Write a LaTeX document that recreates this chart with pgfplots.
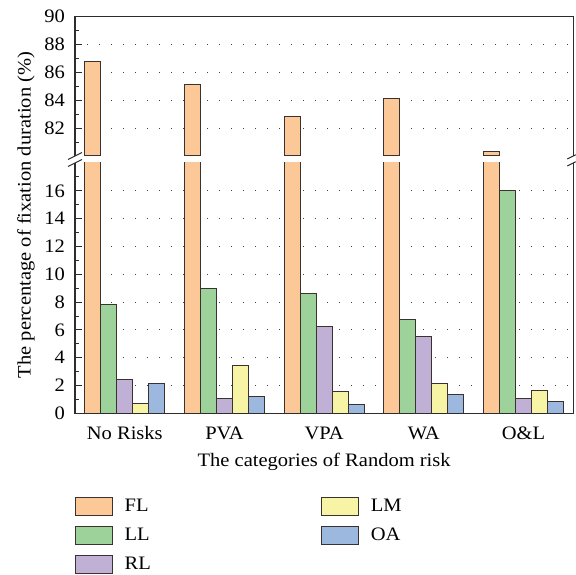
\documentclass[border=0pt]{standalone}
\usepackage{fontspec}
\setmainfont{Liberation Serif}[FakeStretch=1.08]
\usepackage{pgfplots}
\usepackage{pgfplotstable}
\pgfplotsset{compat=1.18}

\definecolor{cFL}{RGB}{252,200,152}
\definecolor{cLL}{RGB}{157,210,155}
\definecolor{cRL}{RGB}{193,176,214}
\definecolor{cLM}{RGB}{247,244,165}
\definecolor{cOA}{RGB}{156,184,222}
\definecolor{edge}{RGB}{58,50,46}
\definecolor{framec}{RGB}{45,45,45}

% share of fixation duration (%) per area of interest and risk category
\pgfplotstableread{
x FL    LL    RL    LM    OA
0 86.80 7.85  2.42  0.69  2.13
1 85.10 9.00  1.08  3.45  1.22
2 82.80 8.60  6.21  1.56  0.62
3 84.10 6.78  5.51  2.11  1.37
4 80.35 16.00 1.08  1.63  0.84
}\datatable

\newcommand{\bigfont}{\fontsize{19}{22}\selectfont}

\tikzset{axisframe/.style={line width=1.1pt, framec}}

\pgfplotsset{
  bars/.style={draw=edge, line width=1pt},
  boxlegend/.style={legend image code/.code={%
    \draw[#1, line width=1pt] (0pt,-8.8pt) rectangle (37pt,8.8pt);}},
  brokenpart/.style={
    scale only axis,
    width=498.3pt,
    xmin=-0.5, xmax=4.5,
    ybar, bar width=15.95pt,
    axis line style={draw=none},
    tick align=inside,
    ytick pos=left,
    major tick length=7pt,
    minor tick length=4pt,
    tick style={line width=0.9pt, framec},
    xtick style={draw=none},
    ymajorgrids,
    major grid style={line width=1pt, black!75, dash pattern=on 0.9pt off 11.1pt},
    tick label style={font=\bigfont},
    label style={font=\bigfont},
    /pgf/number format/assume math mode=true,
    yticklabel style={anchor=east, inner sep=0pt, xshift=-10pt},
  },
}

\begin{document}
\begin{tikzpicture}
\useasboundingbox (-75pt,-161.7pt) rectangle (501pt,413.3pt);

% lower part of the broken y axis: 0 to 18
\begin{axis}[
  brokenpart,
  at={(0pt,0pt)}, anchor=south west,
  height=250.3pt,
  ymin=0, ymax=18,
  ytick={0,2,...,16},
  minor ytick={1,3,...,17},
  xtick=data,
  xticklabels={No Risks, PVA, VPA, WA, O\&L},
  xticklabel style={anchor=base, yshift=-26pt},
  xlabel={The categories of Random risk},
  xlabel style={at={(axis description cs:0.5,0)}, anchor=center, yshift=-48.2pt},
  legend columns=2,
  legend cell align=left,
  legend style={draw=none, fill=none, font=\bigfont,
    at={(axis description cs:0,0)}, anchor=north west, yshift=-83.5pt,
    inner sep=0pt, row sep=10.5pt, column sep=9.5pt,
    nodes={inner sep=2pt},
    /tikz/every even column/.append style={column sep=168.5pt}},
  after end axis/.code={
    \draw[axisframe] (rel axis cs:0,1) -- (rel axis cs:0,0)
      -- (rel axis cs:1,0) -- (rel axis cs:1,1);
  },
]
\addplot[bars, forget plot, fill=cFL, bar shift=-31.9pt]  table[x=x, y=FL] {\datatable};
\addplot[bars, forget plot, fill=cLL, bar shift=-15.95pt] table[x=x, y=LL] {\datatable};
\addplot[bars, forget plot, fill=cRL, bar shift=0pt]      table[x=x, y=RL] {\datatable};
\addplot[bars, forget plot, fill=cLM, bar shift=15.95pt]  table[x=x, y=LM] {\datatable};
\addplot[bars, forget plot, fill=cOA, bar shift=31.9pt]   table[x=x, y=OA] {\datatable};

% legend, filled column by column
\addlegendimage{boxlegend, fill=cFL, draw=edge}
\addlegendentry{FL}
\addlegendimage{boxlegend, fill=cLM, draw=edge}
\addlegendentry{LM}
\addlegendimage{boxlegend, fill=cLL, draw=edge}
\addlegendentry{LL}
\addlegendimage{boxlegend, fill=cOA, draw=edge}
\addlegendentry{OA}
\addlegendimage{boxlegend, fill=cRL, draw=edge}
\addlegendentry{RL}
\end{axis}

% upper part of the broken y axis: 80 to 90
\begin{axis}[
  brokenpart,
  at={(0pt,257.3pt)}, anchor=south west,
  height=139.3pt,
  ymin=80, ymax=90,
  ytick={82,84,...,90},
  minor ytick={81,83,...,89},
  xtick=\empty,
  after end axis/.code={
    \draw[axisframe] (rel axis cs:0,0) -- (rel axis cs:0,1)
      -- (rel axis cs:1,1) -- (rel axis cs:1,0);
  },
]
\addplot[bars, fill=cFL, bar shift=-31.9pt] table[x=x, y=FL] {\datatable};
\end{axis}

% break marks on both vertical axis lines
\foreach \yb in {250.3pt, 257.3pt} {
  \draw[line width=1pt, framec] ([shift={(-7pt,-3.5pt)}]0pt,\yb) -- ([shift={(7pt,3.5pt)}]0pt,\yb);
  \draw[line width=1pt, framec] ([shift={(-6pt,-3pt)}]498.3pt,\yb) -- ([shift={(2.5pt,1.25pt)}]498.3pt,\yb);
}

% shared y axis title
\node[rotate=90, anchor=center, font=\bigfont] at (-49pt,198.3pt)
  {The percentage of fixation duration (\%)};
\end{tikzpicture}
\end{document}
